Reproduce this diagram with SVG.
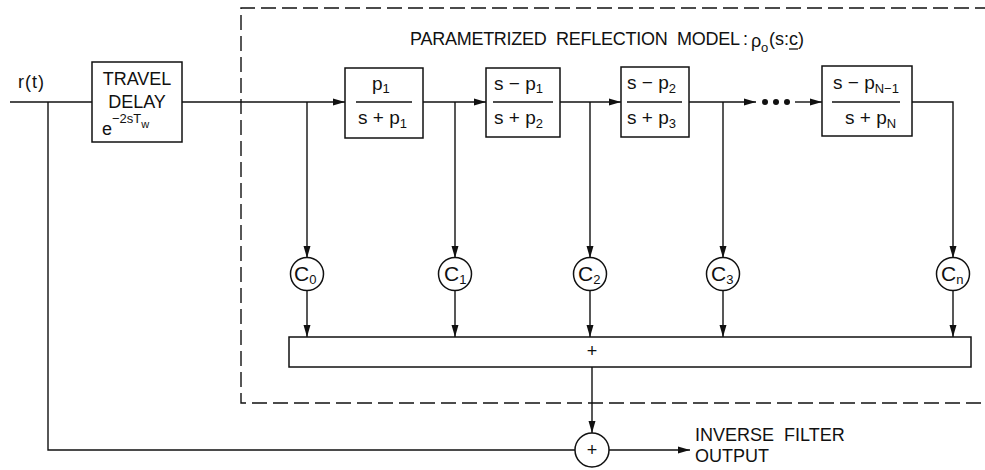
<svg xmlns="http://www.w3.org/2000/svg" width="985" height="470" viewBox="0 0 985 470">
<defs>
<marker id="ah" markerWidth="12" markerHeight="8" refX="12" refY="4" orient="auto" markerUnits="userSpaceOnUse">
<path d="M0,0.5 L12,4 L0,7.5 Z" fill="#111"/>
</marker>
<style>
.ln{fill:none;stroke:#111;stroke-width:1.4}
.bx{fill:#fff;stroke:#111;stroke-width:1.5}
.dash{fill:none;stroke:#111;stroke-width:1.4;stroke-dasharray:15 6}
text{font-family:"Liberation Sans","DejaVu Sans",sans-serif;fill:#111;font-size:18px}
.m{text-anchor:middle}
.f{font-size:19px}
.sub{font-size:13px}
.c{font-size:21px}
</style>
</defs>
<rect width="985" height="470" fill="#fff"/>

<g id="model-boundary">
<path class="dash" d="M990,8 L241,8 L241,403 L990,403"/>
<text x="410" y="45" textLength="330" lengthAdjust="spacing">PARAMETRIZED&#160;&#160;REFLECTION&#160;&#160;MODEL</text>
<text x="743" y="45">:</text>
<text x="751" y="47">ρ</text>
<text class="sub" x="761" y="52">o</text>
<text x="769" y="45">(s:c)</text>
<line x1="789" y1="49" x2="798" y2="49" stroke="#111" stroke-width="1.3"/>
</g>

<g id="connectors">
<line class="ln" x1="10" y1="102" x2="92" y2="102"/>
<line class="ln" x1="182" y1="102" x2="345" y2="102" marker-end="url(#ah)"/>
<line class="ln" x1="423" y1="102" x2="486" y2="102" marker-end="url(#ah)"/>
<line class="ln" x1="560" y1="102" x2="621" y2="102" marker-end="url(#ah)"/>
<line class="ln" x1="689" y1="102" x2="756" y2="102" marker-end="url(#ah)"/>
<line class="ln" x1="795" y1="102" x2="822" y2="102" marker-end="url(#ah)"/>
<polyline class="ln" points="912,102 953,102 953,258" marker-end="url(#ah)"/>
<line class="ln" x1="307" y1="102" x2="307" y2="258" marker-end="url(#ah)"/>
<line class="ln" x1="455" y1="102" x2="455" y2="258" marker-end="url(#ah)"/>
<line class="ln" x1="590" y1="102" x2="590" y2="258" marker-end="url(#ah)"/>
<line class="ln" x1="723" y1="102" x2="723" y2="258" marker-end="url(#ah)"/>
<line class="ln" x1="307" y1="290" x2="307" y2="337" marker-end="url(#ah)"/>
<line class="ln" x1="455" y1="290" x2="455" y2="337" marker-end="url(#ah)"/>
<line class="ln" x1="590" y1="290" x2="590" y2="337" marker-end="url(#ah)"/>
<line class="ln" x1="723" y1="290" x2="723" y2="337" marker-end="url(#ah)"/>
<line class="ln" x1="953" y1="290" x2="953" y2="337" marker-end="url(#ah)"/>
<line class="ln" x1="592" y1="367" x2="592" y2="433" marker-end="url(#ah)"/>
<polyline class="ln" points="48,102 48,450 575,450"/>
<line class="ln" x1="609" y1="450" x2="690" y2="450" marker-end="url(#ah)"/>
<circle cx="765" cy="102" r="3" fill="#111"/>
<circle cx="776" cy="102" r="3" fill="#111"/>
<circle cx="787" cy="102" r="3" fill="#111"/>
</g>

<g id="input-label">
<text x="18" y="88" font-size="17" letter-spacing="1">r(t)</text>
</g>

<g id="travel-delay">
<rect class="bx" x="92" y="62" width="90" height="80"/>
<text class="m" x="137" y="85">TRAVEL</text>
<text class="m" x="137" y="108">DELAY</text>
<text x="102" y="135" font-size="19">e<tspan class="sub" dy="-12">−2sT</tspan><tspan font-size="11" dy="5">w</tspan></text>
</g>

<g id="stage1">
<rect class="bx" x="345" y="68" width="78" height="70"/>
<text class="f" x="372" y="90">p<tspan class="sub" dy="3">1</tspan></text>
<line class="ln" x1="356" y1="102" x2="412" y2="102"/>
<text class="f" x="358" y="124">s + p<tspan class="sub" dy="4">1</tspan></text>
</g>

<g id="stage2">
<rect class="bx" x="486" y="68" width="74" height="69"/>
<text class="f" x="494" y="90">s − p<tspan class="sub" dy="3">1</tspan></text>
<line class="ln" x1="493" y1="102" x2="553" y2="102"/>
<text class="f" x="494" y="124">s + p<tspan class="sub" dy="4">2</tspan></text>
</g>

<g id="stage3">
<rect class="bx" x="621" y="67" width="68" height="70"/>
<text class="f" x="627" y="89">s − p<tspan class="sub" dy="4">2</tspan></text>
<line class="ln" x1="627" y1="102" x2="682" y2="102"/>
<text class="f" x="627" y="124">s + p<tspan class="sub" dy="4">3</tspan></text>
</g>

<g id="stageN">
<rect class="bx" x="822" y="66" width="90" height="70"/>
<text class="f" x="833" y="89">s − p<tspan class="sub" dy="4">N−1</tspan></text>
<line class="ln" x1="832" y1="102" x2="900" y2="102"/>
<text class="f" x="845" y="124">s + p<tspan class="sub" dy="4">N</tspan></text>
</g>

<g id="c0"><circle class="bx" cx="307" cy="274" r="16.5"/><text class="c" x="294" y="281">C<tspan class="sub" dy="3">0</tspan></text></g>
<g id="c1"><circle class="bx" cx="455" cy="274" r="16.5"/><text class="c" x="444" y="281">C<tspan class="sub" dy="3">1</tspan></text></g>
<g id="c2"><circle class="bx" cx="590" cy="274" r="16.5"/><text class="c" x="578" y="281">C<tspan class="sub" dy="3">2</tspan></text></g>
<g id="c3"><circle class="bx" cx="723" cy="274" r="16.5"/><text class="c" x="711" y="281">C<tspan class="sub" dy="3">3</tspan></text></g>
<g id="cn"><circle class="bx" cx="953" cy="274" r="16.5"/><text class="c" x="941" y="281">C<tspan class="sub" dy="3">n</tspan></text></g>

<g id="summer">
<rect class="bx" x="289" y="337" width="682" height="30"/>
<text class="m" x="592" y="357" font-size="16">+</text>
</g>

<g id="output-sum">
<circle class="bx" cx="592" cy="450" r="17"/>
<text class="m" x="592" y="456" font-size="16">+</text>
</g>

<g id="output-label">
<text x="695" y="441" font-size="17">INVERSE&#160;&#160;FILTER</text>
<text x="695" y="462" font-size="17">OUTPUT</text>
</g>
</svg>
